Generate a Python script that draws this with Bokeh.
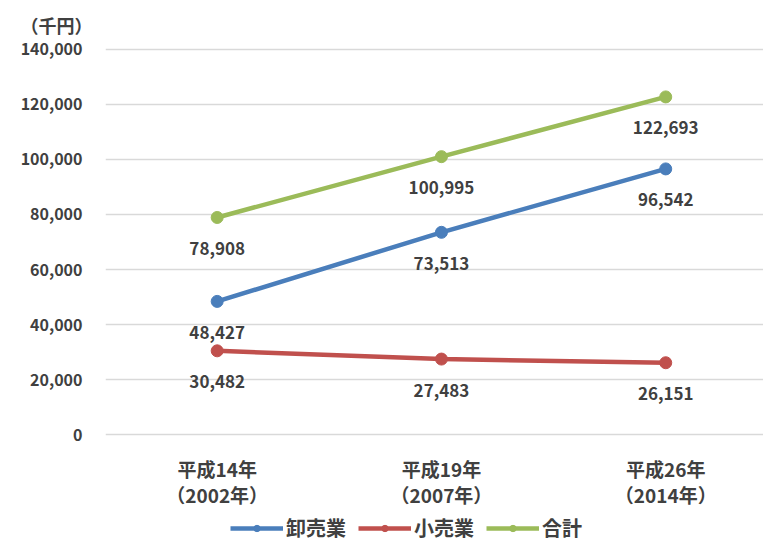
from bokeh.plotting import figure
from bokeh.layouts import column
from bokeh.models import (Range1d, FixedTicker, NumeralTickFormatter, Legend, LegendItem,
                          ColumnDataSource, LinearAxis)
from bokeh.embed import file_html
from bokeh.resources import INLINE
from bokeh.core.properties import value

era_labels = ["平成14年", "平成19年", "平成26年"]
year_labels = ["（2002年）", "（2007年）", "（2014年）"]
wholesale = [48427, 73513, 96542]
retail = [30482, 27483, 26151]
total = [78908, 100995, 122693]
series_names = ["卸売業", "小売業", "合計"]
colors = ["#4a7ebb", "#c0504d", "#9bbb59"]
y_ticks = [0, 20000, 40000, 60000, 80000, 100000, 120000, 140000]
unit_label = "（千円）"

FONT = "Noto Sans CJK JP"
GRAY = "#404040"

xs = list(range(len(era_labels)))

p = figure(frame_width=658, frame_height=391, output_backend="svg", toolbar_location=None,
           x_range=Range1d(-0.498, 2.436), y_range=Range1d(-1000, 141000),
           min_border_left=105, min_border_right=0, min_border_top=46, min_border_bottom=60,
           x_axis_location=None, title=unit_label)
p.outline_line_color = None

p.title.text_font = FONT
p.title.text_font_style = "bold"
p.title.text_font_size = "18px"
p.title.text_color = GRAY
p.title.align = "left"
p.title.offset = -85
p.title.standoff = 18

p.xgrid.grid_line_color = None
p.ygrid.grid_line_color = "#d9d9d9"
p.ygrid.grid_line_width = 1.5
p.ygrid.ticker = FixedTicker(ticks=y_ticks)

p.yaxis.ticker = FixedTicker(ticks=y_ticks)
p.yaxis.formatter = NumeralTickFormatter(format="0,0")
p.yaxis.axis_line_color = None
p.yaxis.major_tick_line_color = None
p.yaxis.minor_tick_line_color = None
p.yaxis.major_label_text_font = FONT
p.yaxis.major_label_text_font_style = "bold"
p.yaxis.major_label_text_font_size = "16px"
p.yaxis.major_label_text_color = GRAY
p.yaxis.major_label_standoff = 17


def make_xaxis(labels, standoff):
    ax = LinearAxis(ticker=FixedTicker(ticks=xs),
                    major_label_overrides={i: t for i, t in enumerate(labels)})
    ax.axis_line_color = None
    ax.major_tick_line_color = None
    ax.minor_tick_line_color = None
    ax.major_label_text_font = FONT
    ax.major_label_text_font_style = "bold"
    ax.major_label_text_font_size = "19px"
    ax.major_label_text_color = GRAY
    ax.major_label_standoff = standoff
    return ax


p.add_layout(make_xaxis(era_labels, 11), "below")
p.add_layout(make_xaxis(year_labels, -10), "below")

for name, vals, col in zip(series_names, [wholesale, retail, total], colors):
    src = ColumnDataSource(dict(x=xs, y=vals, lab=[f"{v:,}" for v in vals]))
    p.line("x", "y", source=src, line_color=col, line_width=4.5)
    p.scatter("x", "y", source=src, size=12, fill_color=col, line_color=col)
    p.text("x", "y", text="lab", source=src, x_offset=0, y_offset=31,
           text_align="center", text_baseline="middle",
           text_font=value(FONT), text_font_style="bold", text_font_size="17px",
           text_color=GRAY)

# legend strip below the chart
lg = figure(frame_width=658, frame_height=39, output_backend="svg", toolbar_location=None,
            x_range=Range1d(0, 1), y_range=Range1d(0, 1),
            min_border_left=105, min_border_right=0, min_border_top=0, min_border_bottom=0,
            x_axis_location=None, y_axis_location=None)
lg.outline_line_color = None
lg.xgrid.grid_line_color = None
lg.ygrid.grid_line_color = None
items = []
for name, col in zip(series_names, colors):
    ln = lg.line(x=[-5, -4], y=[-5, -4], line_color=col, line_width=4.5)
    sc = lg.scatter(x=[-5], y=[-5], size=10, fill_color=col, line_color=col)
    items.append(LegendItem(label=name, renderers=[ln, sc]))
legend = Legend(items=items, orientation="horizontal", location=(125, 7),
                label_text_font=FONT, label_text_font_style="bold",
                label_text_font_size="20px", label_text_color=GRAY,
                glyph_width=53, glyph_height=16, spacing=12, padding=0,
                border_line_color=None, background_fill_alpha=0, margin=0,
                label_standoff=3)
lg.add_layout(legend, "center")

layout = column(p, lg, spacing=0)
open("out.html", "w").write(file_html(layout, INLINE))
